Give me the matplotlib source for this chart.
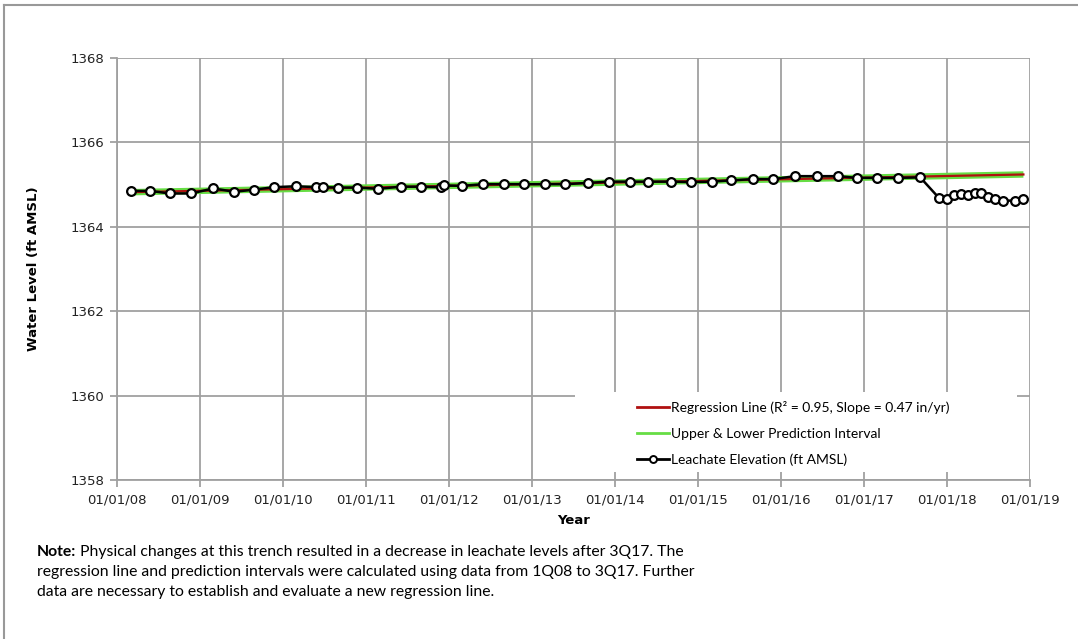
import matplotlib
matplotlib.use("Agg")
import matplotlib.pyplot as plt
import matplotlib.dates as mdates
from matplotlib.lines import Line2D
from matplotlib.patches import Rectangle
import pandas as pd

plt.rcParams["font.family"] = ["DejaVu Sans"]

# ---- data ----
obs_dates = ["2008-03-03", "2008-05-27", "2008-08-20", "2008-11-23",
             "2009-02-28", "2009-05-31", "2009-08-26", "2009-11-24",
             "2010-02-28", "2010-05-27", "2010-06-27", "2010-08-30", "2010-11-23",
             "2011-02-23", "2011-06-02", "2011-08-29", "2011-11-29", "2011-12-10",
             "2012-02-28", "2012-05-31", "2012-08-29", "2012-11-27",
             "2013-02-26", "2013-05-27", "2013-09-02", "2013-12-04",
             "2014-03-06", "2014-05-27", "2014-09-02", "2014-12-01",
             "2015-03-02", "2015-05-27", "2015-08-29", "2015-11-29",
             "2016-03-03", "2016-06-07", "2016-09-06", "2016-11-30",
             "2017-02-28", "2017-05-31", "2017-09-05", "2017-11-27",
             "2018-01-01", "2018-02-02", "2018-03-04", "2018-04-03", "2018-05-03",
             "2018-05-31", "2018-07-01", "2018-08-02", "2018-09-03", "2018-10-29",
             "2018-12-03"]
obs_values = [1364.85, 1364.85, 1364.79, 1364.79,
              1364.91, 1364.83, 1364.88, 1364.94,
              1364.96, 1364.94, 1364.94, 1364.93, 1364.93,
              1364.90, 1364.95, 1364.95, 1364.94, 1364.98,
              1364.97, 1365.01, 1365.01, 1365.01,
              1365.01, 1365.01, 1365.04, 1365.07,
              1365.07, 1365.07, 1365.07, 1365.06,
              1365.07, 1365.10, 1365.13, 1365.13,
              1365.20, 1365.20, 1365.20, 1365.16,
              1365.16, 1365.16, 1365.17, 1364.68,
              1364.67, 1364.75, 1364.78, 1364.76, 1364.79,
              1364.79, 1364.70, 1364.66, 1364.62, 1364.62,
              1364.66]

reg_dates = ["2008-03-03", "2018-12-03"]
reg_values = [1364.82, 1365.24]
upper_values = [1364.86, 1365.28]
lower_values = [1364.78, 1365.20]

year_ticks = [f"{y}-01-01" for y in range(2008, 2020)]
y_ticks = [1358, 1360, 1362, 1364, 1366, 1368]

legend_labels = ["Regression Line (R\u00b2 = 0.95, Slope = 0.47 in/yr)",
                 "Upper & Lower Prediction Interval",
                 "Leachate Elevation (ft AMSL)"]
y_label = "Water Level (ft AMSL)"
x_label = "Year"
note_bold = "Note:"
note_lines = [" Physical changes at this trench resulted in a decrease in leachate levels after 3Q17. The",
              "regression line and prediction intervals were calculated using data from 1Q08 to 3Q17. Further",
              "data are necessary to establish and evaluate a new regression line."]

# ---- figure ----
W, H = 1078, 639
fig = plt.figure(figsize=(W / 100, H / 100), dpi=100)
fig.patch.set_facecolor("white")

ax = fig.add_axes([117 / W, 1 - 480 / H, (1030 - 117) / W, (480 - 58) / H])

od = pd.to_datetime(obs_dates)
rd = pd.to_datetime(reg_dates)

green = "#66dd44"
red = "#b01010"
ax.plot(rd, upper_values, color=green, lw=2.2, zorder=3, solid_capstyle="butt")
ax.plot(rd, lower_values, color=green, lw=2.2, zorder=3, solid_capstyle="butt")
ax.plot(rd, reg_values, color=red, lw=1.6, zorder=4)
ax.plot(od, obs_values, color="black", lw=1.8, marker="o", ms=6.3,
        mfc="white", mec="black", mew=1.6, zorder=5)

ax.set_xlim(pd.Timestamp(year_ticks[0]), pd.Timestamp(year_ticks[-1]))
ax.set_ylim(1358, 1368)
ax.set_xticks(pd.to_datetime(year_ticks))
ax.xaxis.set_major_formatter(mdates.DateFormatter("%m/%d/%y"))
ax.set_yticks(y_ticks)

gcol = "#a0a0a0"
ax.grid(True, color=gcol, lw=1.3, zorder=1)
ax.set_axisbelow(True)
for s in ["top", "right"]:
    ax.spines[s].set_visible(False)
for s in ["left", "bottom"]:
    ax.spines[s].set_color(gcol)
    ax.spines[s].set_linewidth(1.3)
ax.tick_params(axis="both", direction="out", length=5, width=1.3, color=gcol,
               labelsize=9.5, labelcolor="#222222", pad=4,
               labelfontfamily="DejaVu Sans")
ax.tick_params(axis="x", pad=5)

ax.set_ylabel(y_label, fontsize=9.5, fontweight="bold", labelpad=22, family="DejaVu Sans")
ax.set_xlabel(x_label, fontsize=9.5, fontweight="bold", labelpad=5, family="DejaVu Sans")

# white legend background box covering gridlines
x0 = (575 - 117) / (1030 - 117)
x1 = (1017 - 117) / (1030 - 117)
yb = 1 - (472 - 58) / (480 - 58)
yt = 1 - (392 - 58) / (480 - 58)
ax.add_patch(Rectangle((x0, yb), x1 - x0, yt - yb, transform=ax.transAxes,
                       facecolor="white", edgecolor="none", zorder=8))

handles = [Line2D([], [], color=red, lw=2),
           Line2D([], [], color=green, lw=2),
           Line2D([], [], color="black", lw=2, marker="o", ms=5, mfc="white", mec="black", mew=1.4)]
leg = ax.legend(handles, legend_labels, loc="upper left",
                bbox_to_anchor=((637 - 117) / (1030 - 117), 1 - (401 - 58) / (480 - 58)),
                frameon=False, handlelength=2.3, handletextpad=0.15,
                labelspacing=1.0, borderpad=0, borderaxespad=0,
                prop={"family": "Lato", "size": 10})
leg.set_zorder(10)

# note text
fs = 11.3
t_bold = fig.text(37 / W, 1 - 552 / H, note_bold, fontsize=fs, fontweight="bold",
                  family="Lato", va="center", ha="left")
fig.canvas.draw()
bb = t_bold.get_window_extent()
fig.text(bb.x1 / W, 1 - 552 / H, note_lines[0], fontsize=fs, family="Lato",
         va="center", ha="left")
fig.text(37 / W, 1 - 572 / H, note_lines[1], fontsize=fs, family="Lato",
         va="center", ha="left")
fig.text(37 / W, 1 - 592 / H, note_lines[2], fontsize=fs, family="Lato",
         va="center", ha="left")

# outer border (left & top)
fig.add_artist(Line2D([4 / W, 4 / W], [0, 1 - 5 / H], color="#999999", lw=1.5,
                      transform=fig.transFigure))
fig.add_artist(Line2D([4 / W, 1], [1 - 5 / H, 1 - 5 / H], color="#999999", lw=1.5,
                      transform=fig.transFigure))

fig.savefig("out.png", dpi=100, facecolor="white")
